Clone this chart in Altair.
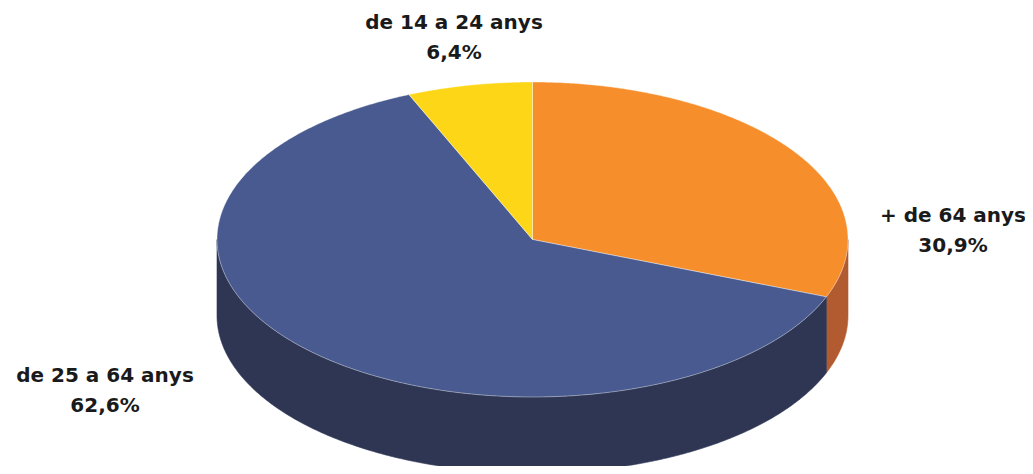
import numpy as np
import pandas as pd
import altair as alt

# ---- data ----
categories = ["+ de 64 anys", "de 25 a 64 anys", "de 14 a 24 anys"]
values = [30.9, 62.6, 6.4]
top_colors = ["#f68e2b", "#485a8f", "#fdd717"]
side_colors = ["#b35b30", "#2e3654"]  # only slices visible on the front wall

# ---- layout (pixel space of the 1033x474 page) ----
CX, CY, A, B, DEPTH = 532.5, 239.5, 315.5, 157.5, 76
label_anchor = {  # x centre, baseline of first line
    "+ de 64 anys": (953, 222),
    "de 25 a 64 anys": (105, 382),
    "de 14 a 24 anys": (454, 29),
}
LINE_GAP = 30

total = sum(values)
cum = np.concatenate([[0], np.cumsum(values)]) / total * 360.0


def ell(theta_deg, dy=0.0):
    t = np.radians(theta_deg)
    return CX + A * np.sin(t), CY - B * np.cos(t) + dy


top_rows, side_rows = [], []
for k, cat in enumerate(categories):
    t1, t2 = cum[k], cum[k + 1]
    n = max(int((t2 - t1) / 0.5), 4)
    ts = np.linspace(t1, t2, n)
    pts = [(CX, CY)] + [ell(t) for t in ts] + [(CX, CY)]
    for i, (x, y) in enumerate(pts):
        top_rows.append({"part": cat, "i": i, "x": x, "y": y})
    s1, s2 = max(t1, 90.0), min(t2, 270.0)
    if s2 > s1:
        n = max(int((s2 - s1) / 0.5), 4)
        ts = np.linspace(s1, s2, n)
        pts = [ell(t) for t in ts] + [ell(t, DEPTH) for t in ts[::-1]]
        pts.append(pts[0])
        for i, (x, y) in enumerate(pts):
            side_rows.append({"part": cat, "i": i, "x": x, "y": y})

top_df = pd.DataFrame(top_rows)
side_df = pd.DataFrame(side_rows)

lab_rows = []
for cat, v in zip(categories, values):
    x0, y0 = label_anchor[cat]
    lab_rows.append({"t": cat, "x": x0, "y": y0})
    lab_rows.append({"t": f"{v:.1f}".replace(".", ",") + "%", "x": x0, "y": y0 + LINE_GAP})
lab_df = pd.DataFrame(lab_rows)

W, H = 1017, 458
xs = alt.Scale(domain=[8, 8 + W], nice=False, zero=False)
ys = alt.Scale(domain=[8, 8 + H], nice=False, zero=False, reverse=True)
X = alt.X("x:Q", scale=xs, axis=None)
Y = alt.Y("y:Q", scale=ys, axis=None)

side = alt.Chart(side_df).mark_line(strokeWidth=0.6, clip=False).encode(
    x=X, y=Y, order="i:Q",
    detail="part:N",
    fill=alt.Fill("part:N", scale=alt.Scale(domain=categories[:2], range=side_colors), legend=None),
    stroke=alt.Stroke("part:N", scale=alt.Scale(domain=categories[:2], range=side_colors), legend=None),
)

top = alt.Chart(top_df).mark_line(strokeWidth=0.7, strokeOpacity=0.55, clip=False).encode(
    x=X, y=Y, order="i:Q",
    detail="part:N",
    fill=alt.Fill("part:N", scale=alt.Scale(domain=categories, range=top_colors), legend=None),
    stroke=alt.value("#ffffff"),
)

labels = alt.Chart(lab_df).mark_text(
    font="DejaVu Sans", fontWeight="bold", fontSize=20, color="#1a1a1a",
    align="center", baseline="alphabetic",
).encode(x=X, y=Y, text="t:N")

chart = alt.layer(side, top, labels).resolve_scale(fill="independent").properties(
    width=W, height=H, padding=0, autosize="none"
).configure_view(stroke=None)

chart.save("out.html", embed_options={"renderer": "svg", "actions": False})
